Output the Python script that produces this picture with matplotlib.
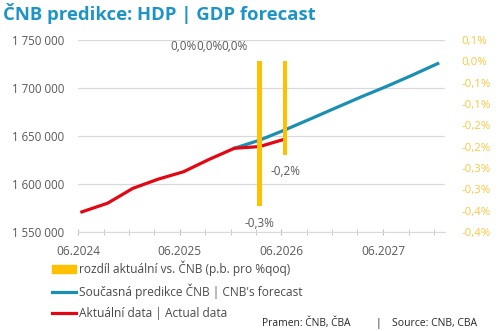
import numpy as np
import pandas as pd
import matplotlib
matplotlib.use("Agg")
import matplotlib.pyplot as plt
import matplotlib.dates as mdates
from matplotlib.ticker import FuncFormatter, FixedLocator
from matplotlib.patches import Patch
from matplotlib.lines import Line2D

# Data
actual_dates = ['2024-06', '2024-09', '2024-12', '2025-03', '2025-06',
                '2025-09', '2025-12', '2026-03', '2026-06']
actual_vals = [1571000, 1580000, 1595500, 1605000, 1612800,
               1625700, 1637300, 1639000, 1646900]

forecast_dates = ['2025-12', '2026-03', '2026-06', '2026-09', '2026-12',
                  '2027-03', '2027-06', '2027-09', '2027-12']
forecast_vals = [1637300, 1645700, 1656500, 1668000, 1679500,
                 1690800, 1701800, 1713500, 1725500]

diff_dates = ['2025-06', '2025-09', '2025-12', '2026-03', '2026-06']
diff_vals = [0.0, 0.0, 0.0, -0.34, -0.22]

right_ticks = [0.05, 0.0, -0.05, -0.1, -0.15, -0.2, -0.25, -0.3, -0.35, -0.4]
right_labels = ['0,1%', '0,0%', '-0,1%', '-0,1%', '-0,2%',
                '-0,2%', '-0,3%', '-0,3%', '-0,4%', '-0,4%']

# colours
GOLD = '#FFC000'
BLUE = '#1B8FB3'
RED = '#E30613'
TITLE = '#1E93C6'
GREY = '#595959'

plt.rcParams['font.family'] = ['Open Sans', 'DejaVu Sans']


def to_dt(lst):
    # data points sit in the middle of the quarter-end month
    return pd.to_datetime([d + '-15' for d in lst])


fig = plt.figure(figsize=(5.0, 3.31), dpi=100)
ax = fig.add_axes([0.156, 0.299, 0.734, 0.58])
ax2 = ax.twinx()

# bars on secondary axis
bar_x = to_dt(diff_dates)
ax2.bar(bar_x, diff_vals, width=16, color=GOLD, zorder=2)
for x, v in zip(bar_x, diff_vals):
    lab = f'{v:.1f}%'.replace('.', ',')
    off = 11 if v >= 0 else -12
    ax2.annotate(lab, (x, v), xytext=(0, off), textcoords='offset points',
                 ha='center', va='center', fontsize=8.5, color=GREY)

ax.plot(to_dt(forecast_dates), forecast_vals, color=BLUE, lw=2.3, zorder=3)
ax.plot(to_dt(actual_dates), actual_vals, color=RED, lw=2.3, zorder=4)

ax.set_ylim(1550000, 1750000)
ax.set_yticks([1550000, 1600000, 1650000, 1700000, 1750000])
ax.yaxis.set_major_formatter(FuncFormatter(lambda v, p: f'{int(v):,}'.replace(',', ' ')))
ax2.set_ylim(-0.4, 0.05)
ax2.yaxis.set_major_locator(FixedLocator(right_ticks))
ax2.set_yticklabels(right_labels)

ax.set_xlim(pd.Timestamp('2024-06-01'), pd.Timestamp('2028-01-10'))
ax.xaxis.set_major_locator(mdates.MonthLocator(bymonth=6))
ax.xaxis.set_minor_locator(mdates.MonthLocator(bymonth=[3, 6, 9, 12]))
ax.xaxis.set_major_formatter(mdates.DateFormatter('%m.%Y'))

ax.grid(axis='y', color='#D9D9D9', lw=0.9)
ax.set_axisbelow(True)
for a in (ax, ax2):
    for s in ['top', 'right', 'left', 'bottom']:
        a.spines[s].set_visible(False)
ax.spines['bottom'].set_visible(True)
ax.spines['bottom'].set_color('#D9D9D9')

ax.tick_params(axis='y', length=0, pad=10, labelsize=8.3, labelcolor=GREY)
ax.tick_params(axis='x', which='both', direction='inout', length=5,
               color='#BFBFBF', labelsize=8.6, labelcolor=GREY, pad=7)
ax2.tick_params(axis='y', length=0, pad=12, labelsize=8.2, labelcolor='#F7C842')

fig.text(0.006, 0.96, 'ČNB predikce: HDP | GDP forecast', fontsize=13.3,
         fontweight='bold', color=TITLE, ha='left', va='center')

# legend
handles = [Patch(color=GOLD),
           Line2D([], [], color=BLUE, lw=2.3),
           Line2D([], [], color=RED, lw=2.3)]
labels = ['rozdíl aktuální vs. ČNB (p.b. pro %qoq)',
          'Současná predikce ČNB | CNB\'s forecast',
          'Aktuální data | Actual data']
fig.legend(handles, labels, loc='upper left', bbox_to_anchor=(0.104, 0.212),
           frameon=False, fontsize=8.6, labelcolor='#4a4a4a',
           handlelength=2.05, handleheight=0.65, handletextpad=0.2,
           labelspacing=0.62, borderpad=0, borderaxespad=0)

fig.text(0.524, 0.024, 'Pramen: ČNB, ČBA', fontsize=7.4, color='#262626', va='center')
fig.text(0.752, 0.024, '|', fontsize=7.4, color='#262626', va='center')
fig.text(0.784, 0.024, 'Source: CNB, CBA', fontsize=7.5, color='#262626', va='center')

fig.savefig('out.png', dpi=100)
